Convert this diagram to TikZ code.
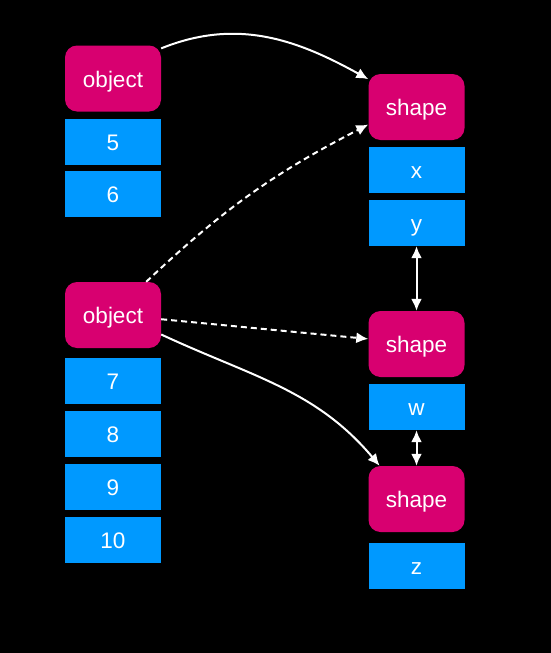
\documentclass[tikz,border=0pt]{standalone}
\usepackage{fontspec}
\setmainfont{Liberation Sans}
\usetikzlibrary{arrows.meta}
\definecolor{mag}{RGB}{216,0,112}
\definecolor{blu}{RGB}{0,153,255}
\begin{document}
\begin{tikzpicture}[x=1pt,y=-1pt,
  objbox/.style={fill=mag,rounded corners=12pt,minimum width=96pt,minimum height=66pt,inner sep=0pt,text=white,font=\fontsize{22.5}{24}\selectfont,text height=17pt,text depth=0pt},
  valbox/.style={fill=blu,minimum width=96pt,minimum height=46pt,inner sep=0pt,text=white,font=\fontsize{22.5}{24}\selectfont,text height=17pt,text depth=0pt},
  conn/.style={draw=white,line width=2pt,-{Latex[length=12pt,width=11pt]}},
  dconn/.style={conn,dash pattern=on 6pt off 4pt},
  dbl/.style={draw=white,line width=2pt,{Latex[length=12pt,width=11pt]}-{Latex[length=12pt,width=11pt]}}]
\fill[black] (0,0) rectangle (551,653);
\useasboundingbox (0,0) rectangle (551,653);
% left column
\node[objbox] (o1) at (113,78.5) {object};
\node[valbox] (v5) at (113,142) {5};
\node[valbox] (v6) at (113,194) {6};
\node[objbox] (o2) at (113,315) {object};
\node[valbox] (v7) at (113,381) {7};
\node[valbox] (v8) at (113,434) {8};
\node[valbox] (v9) at (113,487) {9};
\node[valbox] (v10) at (113,540) {10};
% right column
\node[objbox] (s1) at (416.5,107) {shape};
\node[valbox] (vx) at (416.5,170) {x};
\node[valbox] (vy) at (416.5,223) {y};
\node[objbox] (s2) at (416.5,344) {shape};
\node[valbox] (vw) at (416.5,407) {w};
\node[objbox] (s3) at (416.5,499) {shape};
\node[valbox] (vz) at (416.5,566) {z};
% connectors
\draw[conn] (o1.32) to[out=22,in=151] (s1.150);
\draw[dconn] (o2.45) to[bend left=8] (s1.200);
\draw[dconn] (o2.-5) -- (s2.174);
\draw[conn] (o2.-22) to[out=-25,in=130] (s3.138);
\draw[dbl] (vy.south) -- (s2.north);
\draw[dbl] (vw.south) -- (s3.north);
\end{tikzpicture}
\end{document}
